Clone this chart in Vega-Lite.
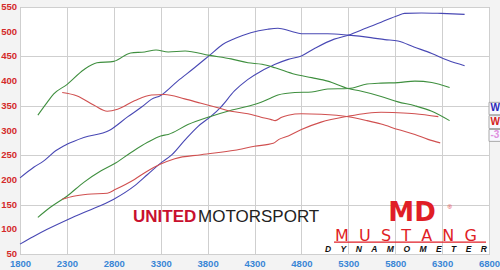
{
  "$schema": "https://vega.github.io/schema/vega-lite/v6.json",
  "autosize": "none",
  "width": 469,
  "height": 247,
  "padding": {"left": 20, "top": 7, "right": 11, "bottom": 16},
  "background": "#f3f3f3",
  "config": {
    "view": {"fill": "white", "stroke": "#b0b0b0"},
    "axis": {"grid": true, "gridColor": "#cfcfcf", "gridWidth": 1, "ticks": false, "domain": false, "labelFont": "Liberation Sans", "labelFontWeight": "bold", "labelFontSize": 10, "labelOverlap": false, "title": null}
  },
  "datasets": {
    "ylabels": [
      {"yl": 50}, {"yl": 100}, {"yl": 150}, {"yl": 200}, {"yl": 250}, {"yl": 300},
      {"yl": 350}, {"yl": 400}, {"yl": 450}, {"yl": 500}, {"yl": 550}
    ],
    "runs": [
      {"s": "Blue TQ", "run": "blue", "rpm": 1800, "v": 204},
      {"s": "Blue TQ", "run": "blue", "rpm": 1950, "v": 226},
      {"s": "Blue TQ", "run": "blue", "rpm": 2050, "v": 238},
      {"s": "Blue TQ", "run": "blue", "rpm": 2180, "v": 259},
      {"s": "Blue TQ", "run": "blue", "rpm": 2300, "v": 272},
      {"s": "Blue TQ", "run": "blue", "rpm": 2480, "v": 286},
      {"s": "Blue TQ", "run": "blue", "rpm": 2750, "v": 300},
      {"s": "Blue TQ", "run": "blue", "rpm": 2950, "v": 328},
      {"s": "Blue TQ", "run": "blue", "rpm": 3100, "v": 348},
      {"s": "Blue TQ", "run": "blue", "rpm": 3200, "v": 363},
      {"s": "Blue TQ", "run": "blue", "rpm": 3300, "v": 371},
      {"s": "Blue TQ", "run": "blue", "rpm": 3480, "v": 400},
      {"s": "Blue TQ", "run": "blue", "rpm": 3660, "v": 427},
      {"s": "Blue TQ", "run": "blue", "rpm": 3820, "v": 452},
      {"s": "Blue TQ", "run": "blue", "rpm": 3960, "v": 474},
      {"s": "Blue TQ", "run": "blue", "rpm": 4090, "v": 486},
      {"s": "Blue TQ", "run": "blue", "rpm": 4260, "v": 498},
      {"s": "Blue TQ", "run": "blue", "rpm": 4440, "v": 505},
      {"s": "Blue TQ", "run": "blue", "rpm": 4550, "v": 507},
      {"s": "Blue TQ", "run": "blue", "rpm": 4690, "v": 501},
      {"s": "Blue TQ", "run": "blue", "rpm": 4800, "v": 496},
      {"s": "Blue TQ", "run": "blue", "rpm": 5080, "v": 496},
      {"s": "Blue TQ", "run": "blue", "rpm": 5300, "v": 493},
      {"s": "Blue TQ", "run": "blue", "rpm": 5540, "v": 488},
      {"s": "Blue TQ", "run": "blue", "rpm": 5690, "v": 484},
      {"s": "Blue TQ", "run": "blue", "rpm": 5830, "v": 481},
      {"s": "Blue TQ", "run": "blue", "rpm": 6000, "v": 469},
      {"s": "Blue TQ", "run": "blue", "rpm": 6190, "v": 456},
      {"s": "Blue TQ", "run": "blue", "rpm": 6360, "v": 442},
      {"s": "Blue TQ", "run": "blue", "rpm": 6540, "v": 431},
      {"s": "Blue HP", "run": "blue", "rpm": 1800, "v": 70},
      {"s": "Blue HP", "run": "blue", "rpm": 1940, "v": 85},
      {"s": "Blue HP", "run": "blue", "rpm": 2090, "v": 100},
      {"s": "Blue HP", "run": "blue", "rpm": 2300, "v": 119},
      {"s": "Blue HP", "run": "blue", "rpm": 2520, "v": 137},
      {"s": "Blue HP", "run": "blue", "rpm": 2800, "v": 161},
      {"s": "Blue HP", "run": "blue", "rpm": 3020, "v": 188},
      {"s": "Blue HP", "run": "blue", "rpm": 3160, "v": 211},
      {"s": "Blue HP", "run": "blue", "rpm": 3300, "v": 234},
      {"s": "Blue HP", "run": "blue", "rpm": 3420, "v": 251},
      {"s": "Blue HP", "run": "blue", "rpm": 3555, "v": 280},
      {"s": "Blue HP", "run": "blue", "rpm": 3696, "v": 308},
      {"s": "Blue HP", "run": "blue", "rpm": 3838, "v": 329},
      {"s": "Blue HP", "run": "blue", "rpm": 3944, "v": 348},
      {"s": "Blue HP", "run": "blue", "rpm": 4086, "v": 380},
      {"s": "Blue HP", "run": "blue", "rpm": 4227, "v": 403},
      {"s": "Blue HP", "run": "blue", "rpm": 4370, "v": 420},
      {"s": "Blue HP", "run": "blue", "rpm": 4475, "v": 430},
      {"s": "Blue HP", "run": "blue", "rpm": 4520, "v": 434},
      {"s": "Blue HP", "run": "blue", "rpm": 4660, "v": 444},
      {"s": "Blue HP", "run": "blue", "rpm": 4800, "v": 451},
      {"s": "Blue HP", "run": "blue", "rpm": 4940, "v": 466},
      {"s": "Blue HP", "run": "blue", "rpm": 5150, "v": 485},
      {"s": "Blue HP", "run": "blue", "rpm": 5300, "v": 493},
      {"s": "Blue HP", "run": "blue", "rpm": 5500, "v": 508},
      {"s": "Blue HP", "run": "blue", "rpm": 5650, "v": 519},
      {"s": "Blue HP", "run": "blue", "rpm": 5830, "v": 533},
      {"s": "Blue HP", "run": "blue", "rpm": 5900, "v": 537},
      {"s": "Blue HP", "run": "blue", "rpm": 6080, "v": 538},
      {"s": "Blue HP", "run": "blue", "rpm": 6290, "v": 537},
      {"s": "Blue HP", "run": "blue", "rpm": 6540, "v": 535},
      {"s": "Green TQ", "run": "green", "rpm": 1990, "v": 331},
      {"s": "Green TQ", "run": "green", "rpm": 2090, "v": 357},
      {"s": "Green TQ", "run": "green", "rpm": 2160, "v": 374},
      {"s": "Green TQ", "run": "green", "rpm": 2300, "v": 393},
      {"s": "Green TQ", "run": "green", "rpm": 2480, "v": 423},
      {"s": "Green TQ", "run": "green", "rpm": 2620, "v": 437},
      {"s": "Green TQ", "run": "green", "rpm": 2800, "v": 440},
      {"s": "Green TQ", "run": "green", "rpm": 2980, "v": 457},
      {"s": "Green TQ", "run": "green", "rpm": 3130, "v": 459},
      {"s": "Green TQ", "run": "green", "rpm": 3250, "v": 463},
      {"s": "Green TQ", "run": "green", "rpm": 3380, "v": 459},
      {"s": "Green TQ", "run": "green", "rpm": 3560, "v": 461},
      {"s": "Green TQ", "run": "green", "rpm": 3820, "v": 452},
      {"s": "Green TQ", "run": "green", "rpm": 4050, "v": 445},
      {"s": "Green TQ", "run": "green", "rpm": 4230, "v": 437},
      {"s": "Green TQ", "run": "green", "rpm": 4380, "v": 434},
      {"s": "Green TQ", "run": "green", "rpm": 4520, "v": 427},
      {"s": "Green TQ", "run": "green", "rpm": 4730, "v": 414},
      {"s": "Green TQ", "run": "green", "rpm": 4910, "v": 407},
      {"s": "Green TQ", "run": "green", "rpm": 5080, "v": 400},
      {"s": "Green TQ", "run": "green", "rpm": 5300, "v": 385},
      {"s": "Green TQ", "run": "green", "rpm": 5430, "v": 380},
      {"s": "Green TQ", "run": "green", "rpm": 5650, "v": 369},
      {"s": "Green TQ", "run": "green", "rpm": 5830, "v": 358},
      {"s": "Green TQ", "run": "green", "rpm": 6010, "v": 350},
      {"s": "Green TQ", "run": "green", "rpm": 6190, "v": 339},
      {"s": "Green TQ", "run": "green", "rpm": 6380, "v": 320},
      {"s": "Green HP", "run": "green", "rpm": 1990, "v": 124},
      {"s": "Green HP", "run": "green", "rpm": 2120, "v": 144},
      {"s": "Green HP", "run": "green", "rpm": 2300, "v": 167},
      {"s": "Green HP", "run": "green", "rpm": 2480, "v": 195},
      {"s": "Green HP", "run": "green", "rpm": 2660, "v": 218},
      {"s": "Green HP", "run": "green", "rpm": 2800, "v": 232},
      {"s": "Green HP", "run": "green", "rpm": 2980, "v": 255},
      {"s": "Green HP", "run": "green", "rpm": 3160, "v": 276},
      {"s": "Green HP", "run": "green", "rpm": 3300, "v": 289},
      {"s": "Green HP", "run": "green", "rpm": 3380, "v": 292},
      {"s": "Green HP", "run": "green", "rpm": 3590, "v": 312},
      {"s": "Green HP", "run": "green", "rpm": 3840, "v": 329},
      {"s": "Green HP", "run": "green", "rpm": 4015, "v": 339},
      {"s": "Green HP", "run": "green", "rpm": 4230, "v": 349},
      {"s": "Green HP", "run": "green", "rpm": 4370, "v": 357},
      {"s": "Green HP", "run": "green", "rpm": 4475, "v": 366},
      {"s": "Green HP", "run": "green", "rpm": 4550, "v": 372},
      {"s": "Green HP", "run": "green", "rpm": 4730, "v": 377},
      {"s": "Green HP", "run": "green", "rpm": 4910, "v": 378},
      {"s": "Green HP", "run": "green", "rpm": 5080, "v": 384},
      {"s": "Green HP", "run": "green", "rpm": 5300, "v": 385},
      {"s": "Green HP", "run": "green", "rpm": 5500, "v": 394},
      {"s": "Green HP", "run": "green", "rpm": 5650, "v": 396},
      {"s": "Green HP", "run": "green", "rpm": 5830, "v": 397},
      {"s": "Green HP", "run": "green", "rpm": 6010, "v": 400},
      {"s": "Green HP", "run": "green", "rpm": 6190, "v": 397},
      {"s": "Green HP", "run": "green", "rpm": 6380, "v": 387},
      {"s": "Red TQ", "run": "red", "rpm": 2250, "v": 377},
      {"s": "Red TQ", "run": "red", "rpm": 2410, "v": 370},
      {"s": "Red TQ", "run": "red", "rpm": 2590, "v": 351},
      {"s": "Red TQ", "run": "red", "rpm": 2730, "v": 339},
      {"s": "Red TQ", "run": "red", "rpm": 2840, "v": 343},
      {"s": "Red TQ", "run": "red", "rpm": 3020, "v": 360},
      {"s": "Red TQ", "run": "red", "rpm": 3200, "v": 372},
      {"s": "Red TQ", "run": "red", "rpm": 3340, "v": 373},
      {"s": "Red TQ", "run": "red", "rpm": 3555, "v": 364},
      {"s": "Red TQ", "run": "red", "rpm": 3730, "v": 355},
      {"s": "Red TQ", "run": "red", "rpm": 3910, "v": 346},
      {"s": "Red TQ", "run": "red", "rpm": 4050, "v": 339},
      {"s": "Red TQ", "run": "red", "rpm": 4230, "v": 334},
      {"s": "Red TQ", "run": "red", "rpm": 4370, "v": 327},
      {"s": "Red TQ", "run": "red", "rpm": 4480, "v": 322},
      {"s": "Red TQ", "run": "red", "rpm": 4520, "v": 320},
      {"s": "Red TQ", "run": "red", "rpm": 4590, "v": 327},
      {"s": "Red TQ", "run": "red", "rpm": 4660, "v": 331},
      {"s": "Red TQ", "run": "red", "rpm": 4800, "v": 334},
      {"s": "Red TQ", "run": "red", "rpm": 5010, "v": 333},
      {"s": "Red TQ", "run": "red", "rpm": 5300, "v": 328},
      {"s": "Red TQ", "run": "red", "rpm": 5500, "v": 320},
      {"s": "Red TQ", "run": "red", "rpm": 5650, "v": 313},
      {"s": "Red TQ", "run": "red", "rpm": 5830, "v": 302},
      {"s": "Red TQ", "run": "red", "rpm": 6010, "v": 292},
      {"s": "Red TQ", "run": "red", "rpm": 6150, "v": 282},
      {"s": "Red TQ", "run": "red", "rpm": 6280, "v": 275},
      {"s": "Red HP", "run": "red", "rpm": 2250, "v": 161},
      {"s": "Red HP", "run": "red", "rpm": 2370, "v": 167},
      {"s": "Red HP", "run": "red", "rpm": 2520, "v": 171},
      {"s": "Red HP", "run": "red", "rpm": 2730, "v": 173},
      {"s": "Red HP", "run": "red", "rpm": 2820, "v": 181},
      {"s": "Red HP", "run": "red", "rpm": 3020, "v": 201},
      {"s": "Red HP", "run": "red", "rpm": 3160, "v": 218},
      {"s": "Red HP", "run": "red", "rpm": 3300, "v": 232},
      {"s": "Red HP", "run": "red", "rpm": 3450, "v": 243},
      {"s": "Red HP", "run": "red", "rpm": 3730, "v": 251},
      {"s": "Red HP", "run": "red", "rpm": 4090, "v": 260},
      {"s": "Red HP", "run": "red", "rpm": 4300, "v": 268},
      {"s": "Red HP", "run": "red", "rpm": 4500, "v": 274},
      {"s": "Red HP", "run": "red", "rpm": 4560, "v": 282},
      {"s": "Red HP", "run": "red", "rpm": 4660, "v": 289},
      {"s": "Red HP", "run": "red", "rpm": 4800, "v": 302},
      {"s": "Red HP", "run": "red", "rpm": 5010, "v": 317},
      {"s": "Red HP", "run": "red", "rpm": 5300, "v": 329},
      {"s": "Red HP", "run": "red", "rpm": 5500, "v": 335},
      {"s": "Red HP", "run": "red", "rpm": 5650, "v": 337},
      {"s": "Red HP", "run": "red", "rpm": 5830, "v": 336},
      {"s": "Red HP", "run": "red", "rpm": 6010, "v": 334},
      {"s": "Red HP", "run": "red", "rpm": 6260, "v": 328}
    ]
  },
  "layer": [
    {
      "data": {"name": "runs"},
      "mark": {"type": "line", "strokeWidth": 1.1, "interpolate": "monotone"},
      "encoding": {
        "x": {"field": "rpm", "type": "quantitative", "scale": {"domain": [1800, 6800], "nice": false, "zero": false},
              "axis": {"values": [1800, 2300, 2800, 3300, 3800, 4300, 4800, 5300, 5800, 6300, 6800], "format": "d", "labelColor": "#3a86d6", "labelPadding": 4, "labelFlush": false, "labelOverlap": false, "labelFontSize": 9.5}},
        "y": {"field": "v", "type": "quantitative", "scale": {"domain": [50, 550], "nice": false, "zero": false},
              "axis": {"values": [50, 100, 150, 200, 250, 300, 350, 400, 450, 500, 550], "labels": false}},
        "color": {"field": "run", "type": "nominal", "scale": {"domain": ["blue", "green", "red"], "range": ["#4848b4", "#3f8f3f", "#d05050"]}, "legend": null},
        "detail": {"field": "s"}
      }
    },
    {
      "data": {"name": "ylabels"},
      "mark": {"type": "text", "align": "right", "baseline": "middle", "dx": -3, "font": "Liberation Sans", "fontWeight": "bold", "fontSize": 9.5, "fill": "#d42a2a"},
      "encoding": {"x": {"datum": 1800, "type": "quantitative"}, "y": {"field": "yl", "type": "quantitative"}, "text": {"field": "yl", "type": "quantitative", "format": "d"}}
    },
    {
      "data": {"values": [{"t": "UNITED"}]},
      "mark": {"type": "text", "align": "left", "baseline": "middle", "font": "Liberation Sans", "fontWeight": "bold", "fontSize": 17, "fill": "#c8102e"},
      "encoding": {"x": {"datum": 3005, "type": "quantitative"}, "y": {"datum": 125, "type": "quantitative"}, "text": {"field": "t"}}
    },
    {
      "data": {"values": [{"t": "MOTORSPORT"}]},
      "mark": {"type": "text", "align": "left", "baseline": "middle", "font": "Liberation Sans", "fontWeight": "normal", "fontSize": 17, "fill": "#222222"},
      "encoding": {"x": {"datum": 3698, "type": "quantitative"}, "y": {"datum": 125, "type": "quantitative"}, "text": {"field": "t"}}
    },
    {
      "data": {"values": [{"t": "MD"}]},
      "mark": {"type": "text", "align": "center", "baseline": "middle", "font": "DejaVu Sans", "fontWeight": "bold", "fontSize": 26, "fill": "#e01e26"},
      "encoding": {"x": {"datum": 5979, "type": "quantitative"}, "y": {"datum": 132, "type": "quantitative"}, "text": {"field": "t"}}
    },
    {
      "data": {"values": [{"t": "®"}]},
      "mark": {"type": "text", "align": "center", "baseline": "middle", "font": "Liberation Sans", "fontSize": 6, "fill": "#e01e26"},
      "encoding": {"x": {"datum": 6380, "type": "quantitative"}, "y": {"datum": 145, "type": "quantitative"}, "text": {"field": "t"}}
    },
    {
      "data": {"values": [{"t": "M\u00a0\u00a0U\u00a0\u00a0S\u00a0\u00a0T\u00a0\u00a0A\u00a0\u00a0N\u00a0\u00a0G"}]},
      "mark": {"type": "text", "align": "center", "baseline": "middle", "font": "DejaVu Sans", "fontSize": 16, "fill": "#e01e26"},
      "encoding": {"x": {"datum": 5915, "type": "quantitative"}, "y": {"datum": 87, "type": "quantitative"}, "text": {"field": "t"}}
    },
    {
      "data": {"values": [{"a": 5148, "b": 6768, "y": 74}]},
      "mark": {"type": "rule", "color": "#e01e26", "strokeWidth": 1.2},
      "encoding": {"x": {"field": "a", "type": "quantitative"}, "x2": {"field": "b"}, "y": {"field": "y", "type": "quantitative"}}
    },
    {
      "data": {"values": [{"t": "D\u00a0\u00a0\u00a0\u00a0Y\u00a0\u00a0\u00a0\u00a0N\u00a0\u00a0\u00a0\u00a0A\u00a0\u00a0\u00a0\u00a0M\u00a0\u00a0\u00a0\u00a0O\u00a0\u00a0\u00a0\u00a0M\u00a0\u00a0\u00a0\u00a0E\u00a0\u00a0\u00a0\u00a0T\u00a0\u00a0\u00a0\u00a0E\u00a0\u00a0\u00a0\u00a0R"}]},
      "mark": {"type": "text", "align": "center", "baseline": "middle", "font": "Liberation Sans", "fontWeight": "bold", "fontStyle": "italic", "fontSize": 8.5, "fill": "#111111"},
      "encoding": {"x": {"datum": 5915, "type": "quantitative"}, "y": {"datum": 60, "type": "quantitative"}, "text": {"field": "t"}}
    },
    {
      "data": {"values": [
        {"label": "W", "top": 357, "bottom": 332, "mid": 345, "col": "blue"},
        {"label": "W", "top": 330, "bottom": 304, "mid": 317, "col": "red"},
        {"label": "-3", "top": 302, "bottom": 278, "mid": 290, "col": "pink"}
      ]},
      "mark": {"type": "rect", "fill": "#f8f8ff", "stroke": "#a8a8a8", "strokeWidth": 1},
      "encoding": {"x": {"datum": 6800, "type": "quantitative"}, "x2": {"datum": 6950}, "y": {"field": "top", "type": "quantitative"}, "y2": {"field": "bottom"}}
    },
    {
      "data": {"values": [
        {"label": "W", "mid": 345, "col": "blue"},
        {"label": "W", "mid": 317, "col": "red"},
        {"label": "-3", "mid": 290, "col": "pink"}
      ]},
      "mark": {"type": "text", "align": "left", "baseline": "middle", "font": "Liberation Sans", "fontWeight": "bold", "fontSize": 10},
      "encoding": {
        "x": {"datum": 6815, "type": "quantitative"},
        "y": {"field": "mid", "type": "quantitative"},
        "text": {"field": "label"},
        "color": {"field": "col", "type": "nominal", "scale": {"domain": ["blue", "green", "red", "pink"], "range": ["#2a2ab8", "#3f8f3f", "#d42020", "#e090e0"]}, "legend": null}
      }
    }
  ],
  "resolve": {"scale": {"color": "independent"}}
}
